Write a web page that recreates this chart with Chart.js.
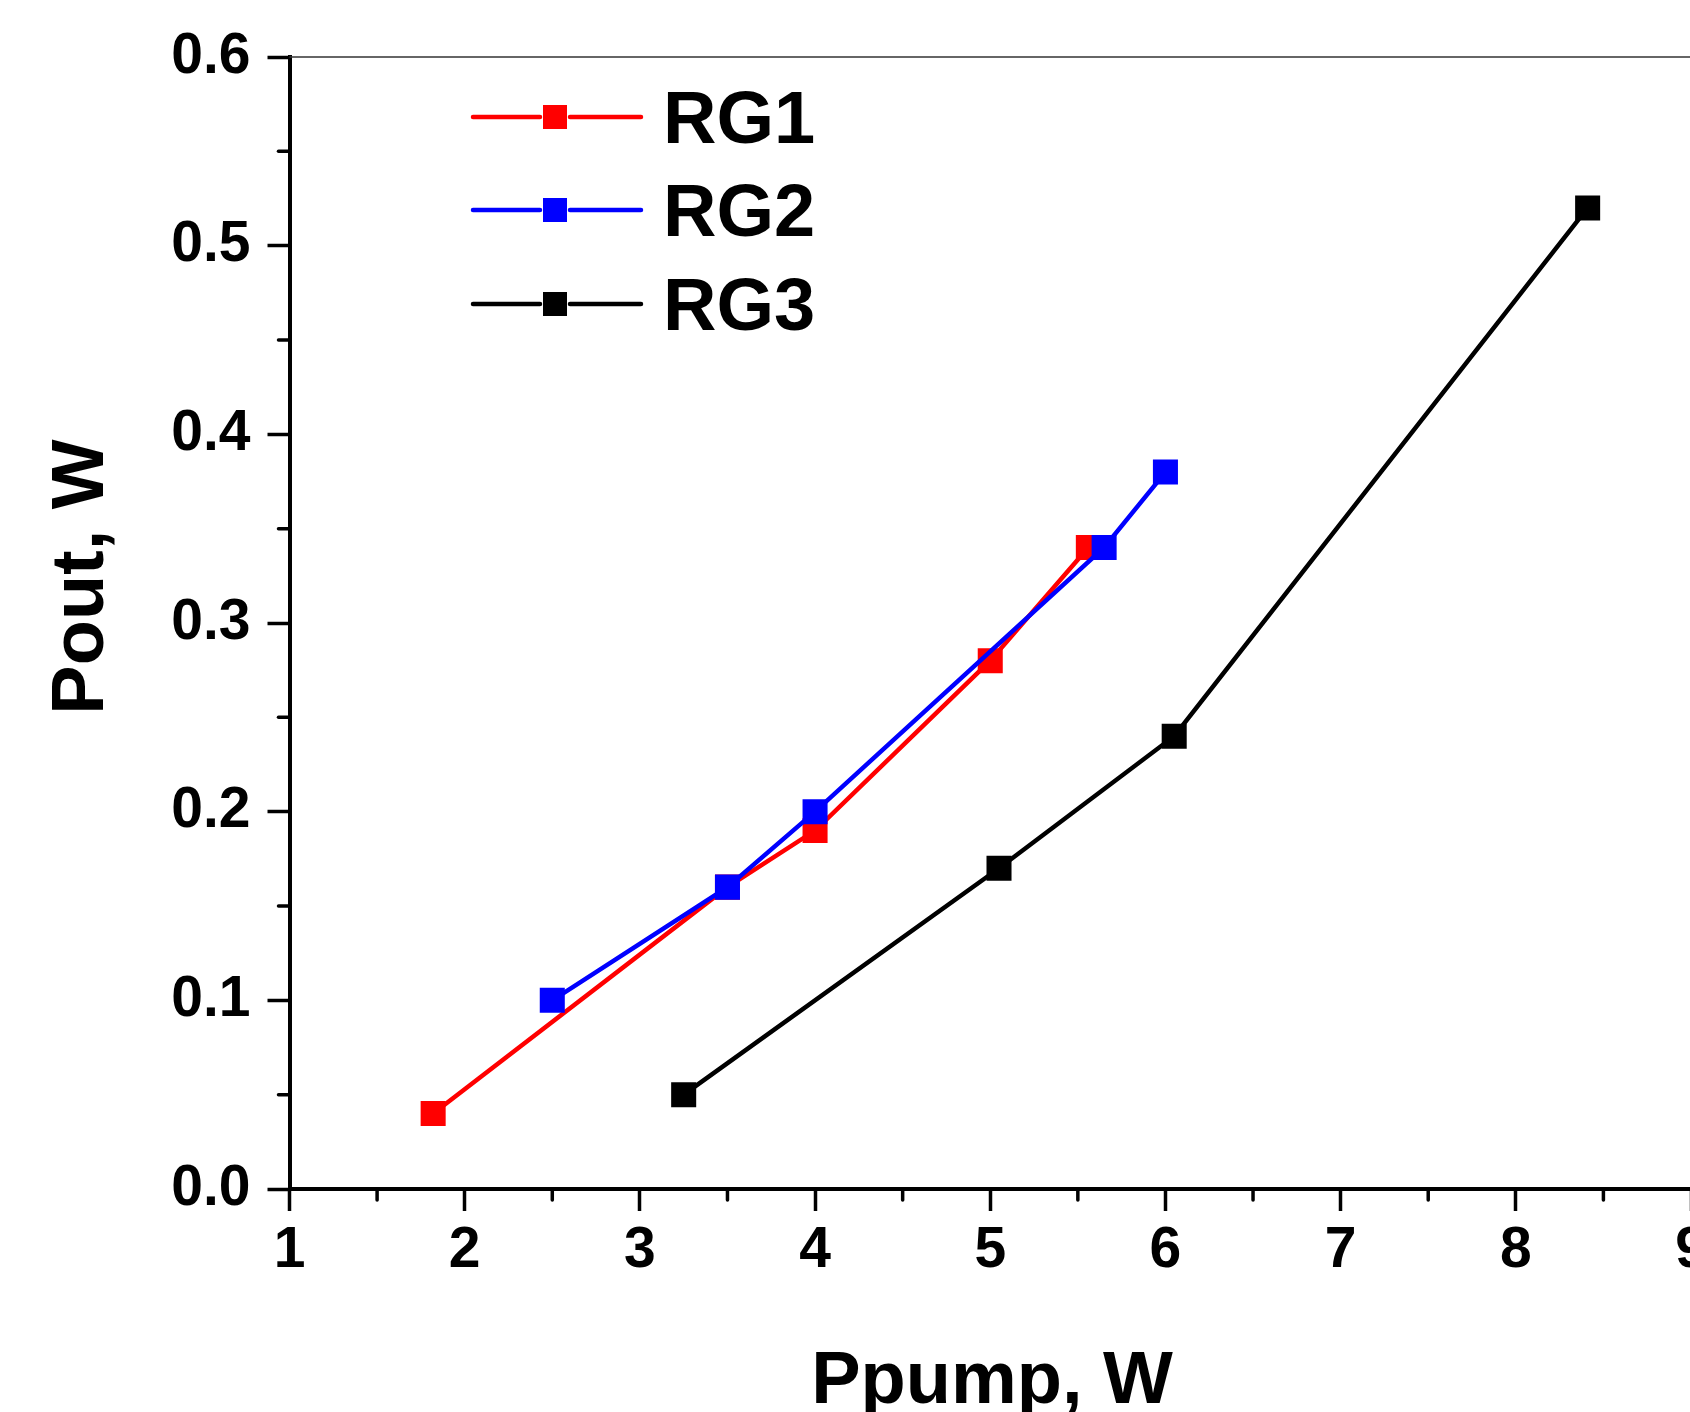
<!DOCTYPE html>
<html>
<head>
<meta charset="utf-8">
<title>Pout vs Ppump</title>
<script src="https://cdn.jsdelivr.net/npm/chart.js@4/dist/chart.umd.min.js"></script>
<style>
    html, body { margin: 0; padding: 0; background: #fff; overflow: hidden; }
    #plot { display: block; }
</style>
</head>
<body>
<canvas id="plot" width="1720" height="1412"></canvas>
<script>
// ===== DATA ===== //
const seriesNames = ['RG1', 'RG2', 'RG3'];
const seriesColors = ['#ff0000', '#0000ff', '#000000'];

const rg1Pump = [1.82, 3.5, 4.0, 5.0, 5.56];
const rg1Out  = [0.04, 0.16, 0.19, 0.28, 0.34];

const rg2Pump = [2.5, 3.5, 4.0, 5.65, 6.0];
const rg2Out  = [0.10, 0.16, 0.20, 0.34, 0.38];

const rg3Pump = [3.25, 5.05, 6.05, 8.41];
const rg3Out  = [0.05, 0.17, 0.24, 0.52];

const xTicks = [1, 2, 3, 4, 5, 6, 7, 8, 9];
const yTicks = [0.0, 0.1, 0.2, 0.3, 0.4, 0.5, 0.6];

const xTitle = 'Ppump, W';
const yTitle = 'Pout, W';

const FONT = "'Liberation Sans', Arial, sans-serif";

function toPoints(xs, ys) {
    return xs.map((x, i) => ({ x: x, y: ys[i] }));
}

// ===== PLUGINS ===== //
// minor ticks and the thin top frame line
const frameExtras = {
    id: 'frameExtras',
    afterDraw(chart) {
        const { ctx, chartArea, scales } = chart;
        ctx.save();
        ctx.strokeStyle = '#000';
        ctx.lineWidth = 3.5;
        ctx.lineCap = 'round';
        for (let i = 0; i < xTicks.length - 1; i++) {
            const px = scales.x.getPixelForValue((xTicks[i] + xTicks[i + 1]) / 2);
            ctx.beginPath();
            ctx.moveTo(px, chartArea.bottom);
            ctx.lineTo(px, chartArea.bottom + 11);
            ctx.stroke();
        }
        for (let i = 0; i < yTicks.length - 1; i++) {
            const py = scales.y.getPixelForValue((yTicks[i] + yTicks[i + 1]) / 2);
            ctx.beginPath();
            ctx.moveTo(chartArea.left, py);
            ctx.lineTo(chartArea.left - 11, py);
            ctx.stroke();
        }
        // thin top line
        ctx.strokeStyle = '#333';
        ctx.lineWidth = 1.5;
        ctx.lineCap = 'butt';
        ctx.beginPath();
        ctx.moveTo(chartArea.left, chartArea.top);
        ctx.lineTo(chartArea.right + 10, chartArea.top);
        ctx.stroke();
        ctx.restore();
    }
};

// axis titles placed like the original figure
const axisTitles = {
    id: 'axisTitles',
    afterDraw(chart) {
        const { ctx } = chart;
        ctx.save();
        ctx.fillStyle = '#000';
        ctx.font = `bold 74px ${FONT}`;
        ctx.textAlign = 'center';
        ctx.textBaseline = 'alphabetic';
        ctx.fillText(xTitle, 992, 1403);

        ctx.translate(103, 577);
        ctx.rotate(-Math.PI / 2);
        ctx.fillText(yTitle, 0, 0);
        ctx.restore();
    }
};

// legend drawn inside the plot area
const innerLegend = {
    id: 'innerLegend',
    afterDraw(chart) {
        const { ctx } = chart;
        const rowY = [117, 210, 304];
        ctx.save();
        chart.data.datasets.forEach((ds, i) => {
            const y = rowY[i];
            ctx.strokeStyle = ds.borderColor;
            ctx.lineWidth = 4.5;
            ctx.lineCap = 'round';
            ctx.beginPath();
            ctx.moveTo(473, y);
            ctx.lineTo(540, y);
            ctx.moveTo(570, y);
            ctx.lineTo(641, y);
            ctx.stroke();
            ctx.fillStyle = ds.backgroundColor;
            ctx.fillRect(555 - 12, y - 12, 24, 24);

            ctx.fillStyle = '#000';
            ctx.font = `bold 74px ${FONT}`;
            ctx.textAlign = 'left';
            ctx.textBaseline = 'alphabetic';
            ctx.fillText(ds.label, 663, y + 26);
        });
        ctx.restore();
    }
};

// ===== CHART ===== //
const datasets = [
    { label: seriesNames[0], data: toPoints(rg1Pump, rg1Out), order: 1 },
    { label: seriesNames[1], data: toPoints(rg2Pump, rg2Out), order: 0 },
    { label: seriesNames[2], data: toPoints(rg3Pump, rg3Out), order: 2 }
].map((ds, i) => Object.assign(ds, {
    borderColor: seriesColors[i],
    backgroundColor: seriesColors[i],
    borderWidth: 4.5,
    borderCapStyle: 'round',
    tension: 0,
    fill: false,
    pointStyle: 'rect',
    pointRadius: 17.7,
    pointBorderWidth: 0,
    pointBackgroundColor: seriesColors[i]
}));

const ctx = document.getElementById('plot').getContext('2d');
const chart = new Chart(ctx, {
    type: 'line',
    data: { datasets: datasets },
    options: {
        responsive: false,
        animation: false,
        devicePixelRatio: 1,
        layout: { padding: { left: 0, top: 57, right: 29, bottom: 0 } },
        plugins: {
            legend: { display: false },
            tooltip: { enabled: false }
        },
        scales: {
            x: {
                type: 'linear',
                min: xTicks[0],
                max: xTicks[xTicks.length - 1],
                afterBuildTicks: (scale) => { scale.ticks = xTicks.map(v => ({ value: v })); },
                afterFit: (scale) => { scale.height = 223; },
                border: { display: true, color: '#000', width: 4 },
                grid: {
                    drawOnChartArea: false,
                    drawTicks: true,
                    tickLength: 22,
                    tickWidth: 3.5,
                    tickColor: '#000'
                },
                ticks: {
                    color: '#000',
                    font: { family: FONT, size: 57, weight: 'bold' },
                    padding: 6,
                    maxRotation: 0,
                    callback: (v) => String(v)
                }
            },
            y: {
                type: 'linear',
                min: yTicks[0],
                max: yTicks[yTicks.length - 1],
                afterBuildTicks: (scale) => { scale.ticks = yTicks.map(v => ({ value: v })); },
                afterFit: (scale) => { scale.width = 289.5; },
                border: { display: true, color: '#000', width: 4 },
                grid: {
                    drawOnChartArea: false,
                    drawTicks: true,
                    tickLength: 22,
                    tickWidth: 3.5,
                    tickColor: '#000'
                },
                ticks: {
                    color: '#000',
                    font: { family: FONT, size: 57, weight: 'bold' },
                    padding: 17,
                    callback: (v) => Number(v).toFixed(1)
                }
            }
        }
    },
    plugins: [frameExtras, axisTitles, innerLegend]
});
</script>
</body>
</html>
